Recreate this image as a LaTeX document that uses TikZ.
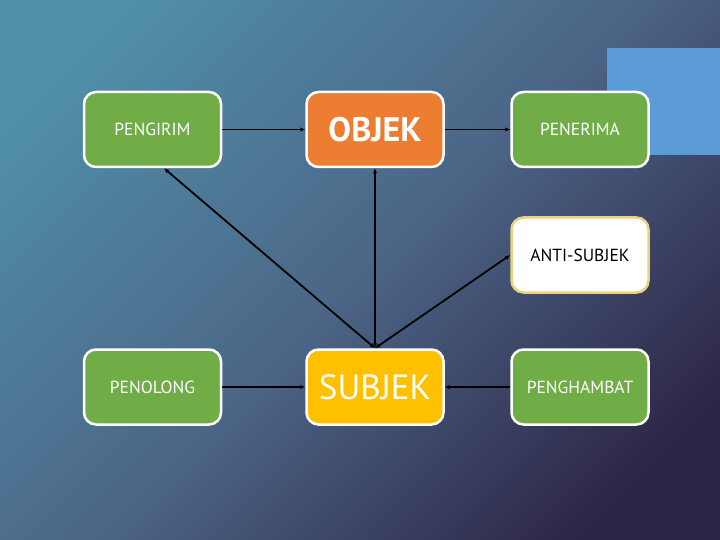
\documentclass[tikz,border=0pt]{standalone}
\usepackage{fontspec}
\setmainfont{PT Sans}
\usetikzlibrary{arrows.meta,calc}
\definecolor{bgA}{HTML}{4F8FA8}
\definecolor{bgM}{HTML}{4C6687}
\definecolor{bgB}{HTML}{2C2445}
\definecolor{grn}{HTML}{70AD47}
\definecolor{org}{HTML}{ED7D31}
\definecolor{gld}{HTML}{FFC000}
\definecolor{blu}{HTML}{5B9BD5}
\definecolor{ylb}{HTML}{EBD27A}
\pgfdeclarehorizontalshading{bgdiag}{100bp}{color(0bp)=(bgA); color(22bp)=(bgA); color(50bp)=(bgM); color(78bp)=(bgB); color(100bp)=(bgB)}
\tikzset{
  box/.style={draw=white, line width=2.5pt, rounded corners=12pt, minimum width=137pt, minimum height=75pt, inner sep=0pt, text=white, font=\fontsize{17.5}{20}\selectfont},
  gbox/.style={box, fill=grn},
  conn/.style={line width=1.8pt, black, -{Latex[length=5pt,width=4.5pt]}},
  bconn/.style={line width=1.8pt, black, {Latex[length=5pt,width=4.5pt]}-{Latex[length=5pt,width=4.5pt]}}
}
\begin{document}
\begin{tikzpicture}[x=1pt,y=-1pt]
\useasboundingbox (0,0) rectangle (720,540);
\shade[shading=bgdiag, shading angle=-45] (0,0) rectangle (720,540);
\fill[blu] (607,48) rectangle (720,155);
\node[gbox] (pengirim) at (152.5,129.5) {PENGIRIM};
\node[box, fill=org, font=\bfseries\fontsize{34}{36}\selectfont] (objek) at (375,129.5) {OBJEK};
\node[gbox] (penerima) at (580,129.5) {PENERIMA};
\node[box, fill=white, draw=ylb, text=black] (anti) at (580,255) {ANTI-SUBJEK};
\node[gbox] (penolong) at (152.5,387) {PENOLONG};
\node[box, fill=gld, font=\fontsize{35}{38}\selectfont] (subjek) at (375,387) {SUBJEK};
\node[gbox] (penghambat) at (580,387) {PENGHAMBAT};
\draw[conn] (pengirim) -- (objek);
\draw[conn] (objek) -- (penerima);
\draw[conn] (penolong) -- (subjek);
\draw[conn] (penghambat) -- (subjek);
\draw[bconn] ($(pengirim.south)+(11.5,0)$) -- (subjek.north);
\draw[bconn] (objek.south) -- (subjek.north);
\draw[bconn] (anti.west) -- (subjek.north);
\end{tikzpicture}
\end{document}
